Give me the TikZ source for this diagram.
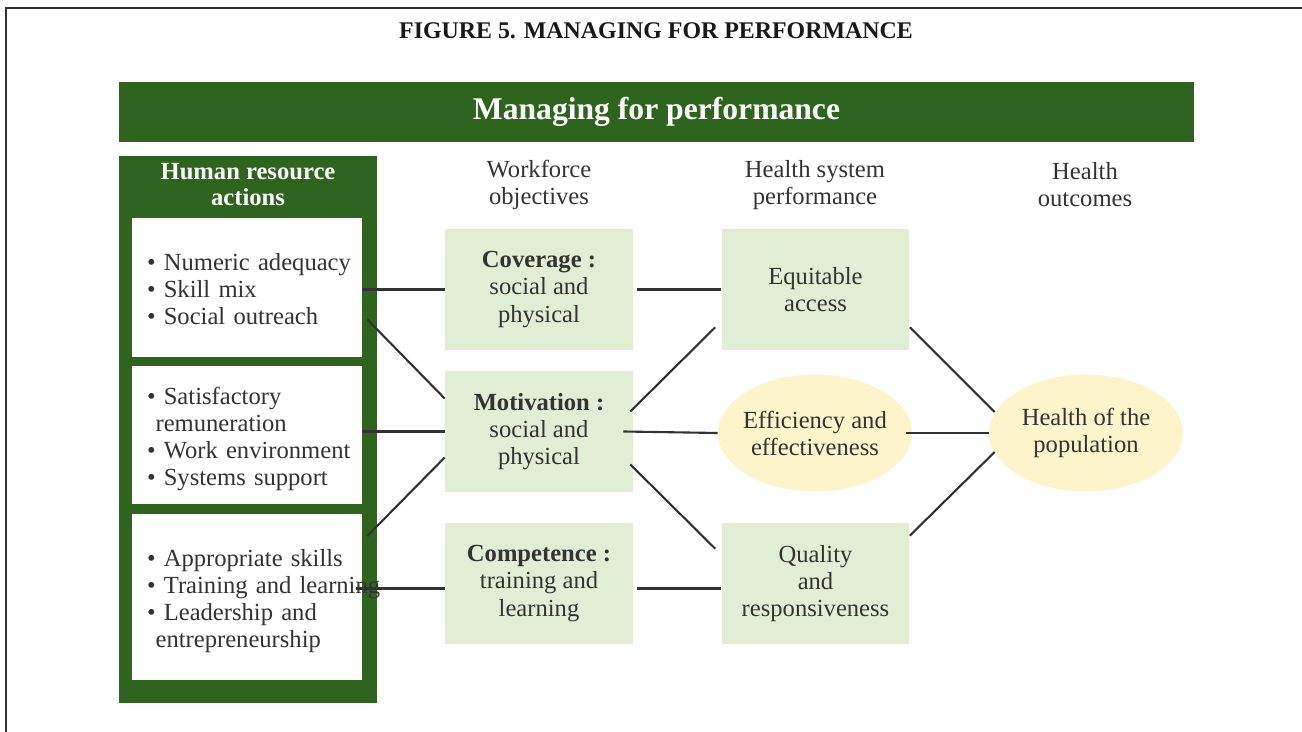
\documentclass[tikz,border=0pt]{standalone}
\usepackage{fontspec}
\setmainfont{Liberation Serif}
\usetikzlibrary{shapes.geometric,calc}
\usepackage{xcolor}
\definecolor{hrgreen}{HTML}{2E641E}
\definecolor{boxgreen}{HTML}{E2EED4}
\definecolor{ovalyellow}{HTML}{FCF5CC}
\definecolor{inkgray}{HTML}{333333}

\begin{document}
\begin{tikzpicture}[
  x=0.02cm, y=-0.02cm,
  txt/.style={font=\fontsize{14}{15.4}\selectfont, text=inkgray},
  hrbox/.style={rectangle, fill=white, txt, text width=4cm, inner xsep=0.3cm, inner ysep=0pt, minimum height=#1, align=left},
  objbox/.style={rectangle, fill=boxgreen, txt, minimum width=3.76cm, minimum height=2.42cm, inner sep=0pt, align=center},
  outoval/.style={ellipse, fill=ovalyellow, txt, minimum width=3.88cm, minimum height=2.34cm, inner xsep=-3pt, inner ysep=0pt, align=center},
  colhead/.style={txt, align=center},
  conn/.style={draw=inkgray, line width=1.2pt}
]
  \useasboundingbox (0,0) rectangle (1302,732);
  % page frame, cut by the page edge
  \draw[inkgray, line width=1.2pt] (6,732) -- (6,8) -- (1302,8);

  \node[font=\fontsize{13.6}{16}\selectfont\bfseries, text=black!90] (title) at (656,31) {FIGURE 5. MANAGING FOR PERFORMANCE};
  \node[rectangle, fill=hrgreen, minimum width=21.5cm, minimum height=1.2cm, text=white, font=\fontsize{18}{20}\selectfont\bfseries] (banner) at (656.5,112) {Managing for performance};

  % human resource actions
  \node[rectangle, fill=hrgreen, minimum width=5.16cm, minimum height=10.94cm] (hrpanel) at (248,429.5) {};
  \node[text=white, font=\fontsize{14}{14.8}\selectfont\bfseries, align=center] (hrhead) at (248,185) {Human resource\\actions};
  \node[hrbox=2.78cm] (hr1) at (247,287.5) {\begin{tabular}{@{}l@{}}\rule{0pt}{16pt}\textbullet\ Numeric adequacy\\\textbullet\ Skill mix\\\textbullet\ Social outreach\end{tabular}};
  \node[hrbox=2.76cm] (hr2) at (247,435) {\begin{tabular}{@{}l@{}}\rule{0pt}{16pt}\textbullet\ Satisfactory\\\hspace*{0.35em}remuneration\\\textbullet\ Work environment\\\textbullet\ Systems support\end{tabular}};
  \node[hrbox=3.32cm] (hr3) at (247,597) {\begin{tabular}{@{}l@{}}\rule{0pt}{16pt}\textbullet\ Appropriate skills\\\textbullet\ Training and learning\\\textbullet\ Leadership and\\\hspace*{0.35em}entrepreneurship\end{tabular}};

  % column heads
  \node[colhead] (wfhead) at (539,185) {Workforce\\objectives};
  \node[colhead] (hshead) at (815,185) {Health system\\performance};
  \node[colhead] (hohead) at (1085,185) {Health\\outcomes};

  \node[objbox] (cov) at (539,289.5) {\textbf{Coverage :}\\social and\\physical};
  \node[objbox] (mot) at (539,431.5) {\textbf{Motivation :}\\social and\\physical};
  \node[objbox] (comp) at (539,583.5) {\textbf{Competence :}\\training and\\learning};
  \node[objbox] (acc) at (815.5,289.5) {Equitable\\access};
  \node[outoval] (eff) at (815,433) {Efficiency and\\effectiveness};
  \node[objbox] (qual) at (815.5,583.5) {Quality\\and\\responsiveness};
  \node[outoval] (pop) at (1086,433) {Health of the\\population};

  % links
  \draw[conn] (hr1.east |- cov.west) -- (cov.west);
  \draw[conn] ($(hr1.east)+(5,32)$) -- ($(mot.west)+(0,-33)$);
  \draw[conn] (hr2.east |- mot.west) -- (mot.west);
  \draw[conn] ($(hr3.east)+(5,-61)$) -- ($(mot.west)+(0,26)$);
  \draw[conn] ($(hr3.east |- comp.west)+(-6,5)$) -- ($(comp.west)+(0,5)$);
  \draw[conn] ($(cov.east)+(4,0)$) -- (acc.west);
  \draw[conn] ($(mot.east)+(-3,-20)$) -- ($(acc.south west)+(-6,-23)$);
  \draw[conn] ($(mot.east)+(-10,0)$) -- (eff.west);
  \draw[conn] ($(mot.east)+(-3,33)$) -- ($(qual.north west)+(-6,26)$);
  \draw[conn] ($(comp.east)+(4,5)$) -- ($(qual.west)+(0,5)$);
  \draw[conn] ($(acc.south east)+(0,-23)$) -- ($(pop.west)+(6,-21)$);
  \draw[conn] ($(eff.east)+(-6,0)$) -- (pop.west);
  \draw[conn] ($(qual.north east)+(0,13)$) -- ($(pop.west)+(6,19)$);
\end{tikzpicture}
\end{document}
